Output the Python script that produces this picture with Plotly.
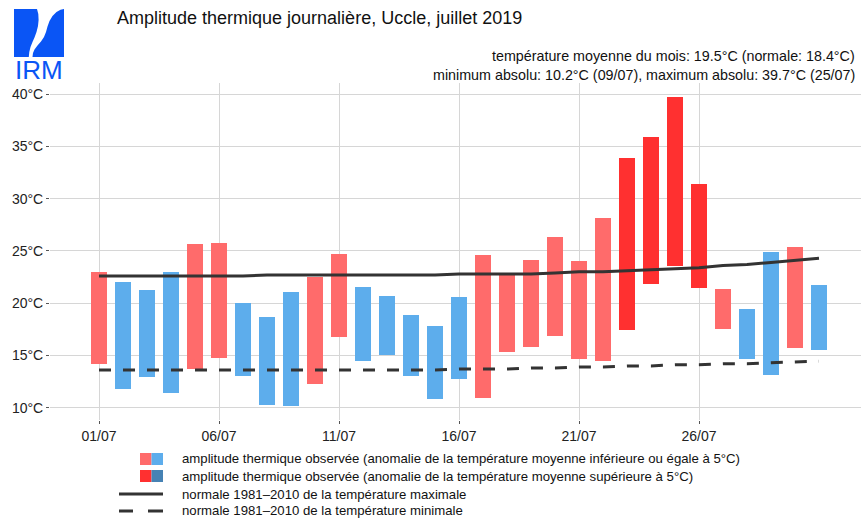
import plotly.graph_objects as go

# ---------------- data ----------------
days = list(range(1, 32))
tmax = [23.0, 22.0, 21.3, 23.0, 25.7, 25.8, 20.0, 18.7, 21.1, 22.5, 24.7, 21.6, 20.7, 18.9, 17.8,
        20.6, 24.6, 22.8, 24.1, 26.3, 24.0, 28.2, 33.9, 35.9, 39.7, 31.4, 21.4, 19.4, 24.9, 25.4, 21.7]
tmin = [14.2, 11.8, 12.9, 11.4, 13.7, 14.8, 13.0, 10.3, 10.2, 12.3, 16.8, 14.5, 15.0, 13.0, 10.8,
        12.7, 10.9, 15.3, 15.8, 16.9, 14.7, 14.5, 17.4, 21.8, 23.6, 21.5, 17.5, 14.7, 13.1, 15.7, 15.5]
# W = warmer than normal, C = cooler, H = anomaly above 5 degrees
category = ["W", "C", "C", "C", "W", "W", "C", "C", "C", "W", "W", "C", "C", "C", "C",
            "C", "W", "W", "W", "W", "W", "W", "H", "H", "H", "H", "W", "C", "C", "W", "C"]
norm_max = [22.6, 22.6, 22.6, 22.6, 22.6, 22.6, 22.6, 22.7, 22.7, 22.7, 22.7, 22.7, 22.7, 22.7, 22.7,
            22.8, 22.8, 22.8, 22.8, 22.9, 23.0, 23.0, 23.1, 23.2, 23.3, 23.4, 23.6, 23.7, 23.9, 24.1, 24.3]
norm_min = [13.6, 13.6, 13.6, 13.6, 13.6, 13.6, 13.6, 13.6, 13.6, 13.6, 13.6, 13.6, 13.6, 13.6, 13.6,
            13.7, 13.7, 13.7, 13.8, 13.8, 13.9, 13.9, 14.0, 14.0, 14.1, 14.1, 14.2, 14.2, 14.3, 14.4, 14.45]
tick_days = [1, 6, 11, 16, 21, 26]
tick_labels = ["01/07", "06/07", "11/07", "16/07", "21/07", "26/07"]
y_ticks = [10, 15, 20, 25, 30, 35, 40]
y_labels = ["10°C", "15°C", "20°C", "25°C", "30°C", "35°C", "40°C"]

title = "Amplitude thermique journalière, Uccle, juillet 2019"
sub1 = "température moyenne du mois: 19.5°C (normale: 18.4°C)"
sub2 = "minimum absolu: 10.2°C (09/07), maximum absolu: 39.7°C (25/07)"
legend_texts = [
    "amplitude thermique observée (anomalie de la température moyenne inférieure ou égale à 5°C)",
    "amplitude thermique observée (anomalie de la température moyenne supérieure à 5°C)",
    "normale 1981–2010 de la température maximale",
    "normale 1981–2010 de la température minimale",
]

# ---------------- style ----------------
COL = {"W": "#FF6B6B", "C": "#5DADEC", "H": "#FF3030"}
DARKBLUE = "#4682B4"
LOGO = "#0A55F5"
FONT = "Liberation Sans, Arial, sans-serif"

W, H = 861, 519
ML, MR, MT, MB = 50, 0, 83, 99
PW, PH = W - ML - MR, H - MT - MB


def P(x, y):
    return (x - ML) / PW, (H - MB - y) / PH


fig = go.Figure()

fig.add_trace(go.Scatter(x=days, y=norm_max, mode="lines",
                         line=dict(color="#333333", width=3), hoverinfo="skip"))
fig.add_trace(go.Scatter(x=days, y=norm_min, mode="lines",
                         line=dict(color="#333333", width=3, dash="12px,12px"), hoverinfo="skip"))

fig.add_trace(go.Bar(
    x=days,
    y=[a - b for a, b in zip(tmax, tmin)],
    base=tmin,
    width=0.64,
    marker=dict(color=[COL[c] for c in category], line=dict(width=0)),
))

shapes = []
annotations = []

# logo
def path_from(points):
    s = ""
    for i, (x, y) in enumerate(points):
        px, py = P(x, y)
        s += ("M" if i == 0 else "L") + f"{px:.5f},{py:.5f} "
    return s + "Z"

left_piece = [(14, 9), (37, 9), (38.3, 14), (38.6, 20), (38, 26), (36.5, 32), (34.5, 37.5),
              (32.5, 42), (30.5, 47), (29.3, 52), (28.8, 57), (14, 57)]
right_piece = [(64, 9), (64, 57), (32.5, 57), (33, 53), (34.5, 49.5), (37.5, 45.5), (41, 41.5),
               (44, 37), (46, 32), (47.5, 26.5), (49.5, 21), (52.5, 16), (56.5, 12), (60.5, 9.7)]
for pts in (left_piece, right_piece):
    shapes.append(dict(type="path", xref="paper", yref="paper", path=path_from(pts),
                       fillcolor=LOGO, line=dict(width=0), layer="above"))
lx, ly = P(39, 70)
annotations.append(dict(text="IRM", x=lx, y=ly, xref="paper", yref="paper", showarrow=False,
                        xanchor="center", yanchor="middle",
                        font=dict(family=FONT, size=26, color=LOGO)))

# title and subtitles
tx, ty = P(115, 18)
annotations.append(dict(text=title, x=tx, y=ty, xref="paper", yref="paper", showarrow=False,
                        xanchor="left", yanchor="middle",
                        font=dict(family=FONT, size=18, color="#111111")))
for txt, yy in ((sub1, 56), (sub2, 75)):
    sx, sy = P(857, yy)
    annotations.append(dict(text=txt, x=sx, y=sy, xref="paper", yref="paper", showarrow=False,
                            xanchor="right", yanchor="middle",
                            font=dict(family=FONT, size=14.3, color="#111111")))

# legend
rows_y = [459, 476, 494, 511]
for i, (txt, yy) in enumerate(zip(legend_texts, rows_y)):
    ax, ay = P(180, yy)
    annotations.append(dict(text=txt, x=ax, y=ay, xref="paper", yref="paper", showarrow=False,
                            xanchor="left", yanchor="middle",
                            font=dict(family=FONT, size=13.2, color="#111111")))
sq_cols = [(COL["W"], COL["C"]), (COL["H"], DARKBLUE)]
for i in range(2):
    yy = rows_y[i]
    for j, c in enumerate(sq_cols[i]):
        x0, y0 = P(140 + j * 11.5, yy - 6)
        x1, y1 = P(151.5 + j * 11.5, yy + 6)
        shapes.append(dict(type="rect", xref="paper", yref="paper", x0=x0, y0=y0, x1=x1, y1=y1,
                           fillcolor=c, line=dict(width=0)))
x0, y0 = P(119, rows_y[2])
x1, _ = P(163, rows_y[2])
shapes.append(dict(type="line", xref="paper", yref="paper", x0=x0, y0=y0, x1=x1, y1=y0,
                   line=dict(color="#333333", width=3)))
for a, b in ((119, 133), (148, 163)):
    x0, y0 = P(a, rows_y[3])
    x1, _ = P(b, rows_y[3])
    shapes.append(dict(type="line", xref="paper", yref="paper", x0=x0, y0=y0, x1=x1, y1=y0,
                       line=dict(color="#333333", width=3)))

fig.update_layout(
    width=W, height=H,
    margin=dict(l=ML, r=MR, t=MT, b=MB, pad=0),
    paper_bgcolor="white", plot_bgcolor="white",
    showlegend=False,
    bargap=0,
    shapes=shapes,
    annotations=annotations,
    font=dict(family=FONT, size=14, color="#333333"),
    xaxis=dict(range=[1 + (ML - 99) / 24, 1 + (W - MR - 99) / 24],
               tickvals=tick_days, ticktext=tick_labels,
               showgrid=True, gridcolor="#D6D6D6", gridwidth=1.1,
               zeroline=False, showline=False,
               ticks="outside", ticklen=3, tickcolor="#555555",
               tickfont=dict(family=FONT, size=14, color="#222222")),
    yaxis=dict(range=[8.82, 41.08],
               tickvals=y_ticks, ticktext=y_labels,
               showgrid=True, gridcolor="#D6D6D6", gridwidth=1.1,
               zeroline=False, showline=False,
               ticks="outside", ticklen=3, tickcolor="#555555",
               tickfont=dict(family=FONT, size=14, color="#222222")),
)

fig.write_html("out.html", config={"displayModeBar": False},
               post_script="document.body.style.margin='0px';document.body.style.padding='0px';")
